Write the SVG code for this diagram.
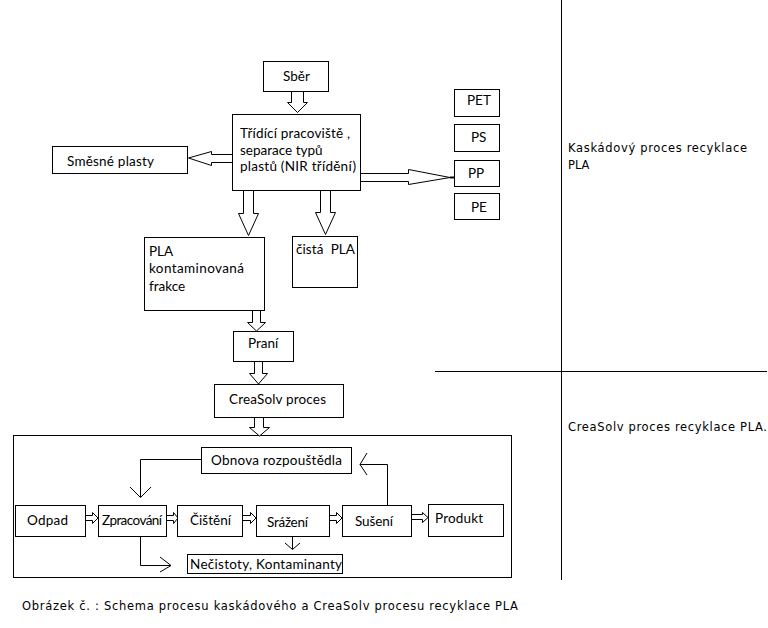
<svg xmlns="http://www.w3.org/2000/svg" width="768" height="628" viewBox="0 0 768 628">
<style>
  .box { fill: #fff; stroke: #000; stroke-width: 1; }
  .t { font-family: Lato, "Liberation Sans", Arial, sans-serif; font-size: 13.5px; fill: #000; }
  .r { font-family: "DejaVu Sans", Verdana, sans-serif; font-size: 11.5px; fill: #000; }
  .ha { fill: #fff; stroke: #000; stroke-width: 1; stroke-linejoin: miter; }
  .ln { fill: none; stroke: #000; stroke-width: 1; }
</style>
<rect x="0" y="0" width="768" height="628" fill="#fff"/>

<g id="dividers">
  <line class="ln" x1="561.5" y1="0" x2="561.5" y2="580"/>
  <line class="ln" x1="435" y1="371.5" x2="767" y2="371.5"/>
</g>

<g id="container">
  <rect class="box" x="13.5" y="435.5" width="498" height="142"/>
</g>

<g id="connectors">
  <path class="ha" d="M291.5,91.5 V102.5 H287.5 L297.5,112.5 L307.5,102.5 H303.5 V91.5"/>
  <path class="ha" d="M232,154.5 H211.5 V151.5 L188.5,158 L211.5,165.5 V162.5 H232"/>
  <path class="ha" d="M361,173.5 H408.5 V169.5 L450,177.5 L408.5,184.5 V181.5 H361"/>
  <line x1="450" y1="177.5" x2="454" y2="177.5" stroke="#000" stroke-width="2"/>
  <path class="ha" d="M243.5,191 V213.5 H238.5 L248.5,235.5 L258.5,213.5 H253.5 V191"/>
  <path class="ha" d="M320.5,191 V212.5 H315.5 L325.5,234.5 L335.5,212.5 H330.5 V191"/>
  <path class="ha" d="M252.5,310 V322.5 H247.5 L256.5,331 L265.5,322.5 H260.5 V310"/>
  <path class="ha" d="M254.5,361 V373.5 H249.5 L258.5,384 L267.5,373.5 H262.5 V361"/>
  <path class="ha" d="M254.5,417 V427.5 H249.5 L259.5,436 L269.5,427.5 H263.5 V417"/>
  <path class="ha" d="M86,515.5 H92.5 V512.5 L98,518 L92.5,523.5 V520.5 H86"/>
  <path class="ha" d="M167,515.5 H173.5 V512.5 L178,518 L173.5,523.5 V520.5 H167"/>
  <path class="ha" d="M243,515.5 H250.5 V512.5 L256,518 L250.5,523.5 V520.5 H243"/>
  <path class="ha" d="M330,515.5 H336.5 V512.5 L342,518 L336.5,523.5 V520.5 H330"/>
  <path class="ha" d="M412,514.5 H422.5 V512.5 L428,517.5 L422.5,522.5 V519.5 H412"/>
  <polyline class="ln" points="201,459.5 140.5,459.5 140.5,497"/>
  <polyline class="ln" points="130,487 140.5,497.5 151,487"/>
  <polyline class="ln" points="387.5,505 387.5,464.5 360,464.5"/>
  <polyline class="ln" points="367,453 360,464.5 367,475"/>
  <polyline class="ln" points="140.5,536 140.5,565.5 171,565.5"/>
  <polyline class="ln" points="160,557 171,565.5 160,572"/>
  <line class="ln" x1="292.5" y1="536" x2="292.5" y2="549"/>
  <polyline class="ln" points="285,543 292.5,549.5 300,543"/>
</g>

<g id="sber">
  <rect class="box" x="263.5" y="61.5" width="65" height="30"/>
  <text class="t" x="283" y="81">Sběr</text>
</g>
<g id="tridici">
  <rect class="box" x="232.5" y="114.5" width="128" height="76"/>
  <text class="t" x="240" y="138" textLength="110">Třídící pracoviště ,</text>
  <text class="t" x="240" y="155">separace typů</text>
  <text class="t" x="240" y="171" textLength="116">plastů (NIR třídění)</text>
</g>
<g id="smesne">
  <rect class="box" x="52.5" y="146.5" width="135" height="27"/>
  <text class="t" x="67" y="166" textLength="87">Směsné plasty</text>
</g>
<g id="pet">
  <rect class="box" x="454.5" y="89.5" width="45" height="27"/>
  <text class="t" x="467" y="105">PET</text>
</g>
<g id="ps">
  <rect class="box" x="454.5" y="124.5" width="45" height="27"/>
  <text class="t" x="471" y="142">PS</text>
</g>
<g id="pp">
  <rect class="box" x="454.5" y="160.5" width="45" height="26"/>
  <text class="t" x="468" y="178">PP</text>
</g>
<g id="pe">
  <rect class="box" x="454.5" y="193.5" width="45" height="26"/>
  <text class="t" x="471" y="212">PE</text>
</g>
<g id="pla-kont">
  <rect class="box" x="144.5" y="237.5" width="120" height="73"/>
  <text class="t" x="149" y="256">PLA</text>
  <text class="t" x="149" y="273" textLength="95">kontaminovaná</text>
  <text class="t" x="149" y="291">frakce</text>
</g>
<g id="cista">
  <rect class="box" x="292.5" y="236.5" width="65" height="51"/>
  <text class="t" x="296" y="254" textLength="59" xml:space="preserve">čistá  PLA</text>
</g>
<g id="prani">
  <rect class="box" x="233.5" y="331.5" width="60" height="30"/>
  <text class="t" x="248" y="348">Praní</text>
</g>
<g id="creasolv">
  <rect class="box" x="214.5" y="384.5" width="129" height="33"/>
  <text class="t" x="229" y="404" textLength="97">CreaSolv proces</text>
</g>
<g id="obnova">
  <rect class="box" x="201.5" y="447.5" width="150" height="26"/>
  <text class="t" x="211" y="465" textLength="131">Obnova rozpouštědla</text>
</g>
<g id="odpad">
  <rect class="box" x="15.5" y="505.5" width="70" height="31"/>
  <text class="t" x="27" y="525" textLength="41">Odpad</text>
</g>
<g id="zpracovani">
  <rect class="box" x="98.5" y="505.5" width="68" height="31"/>
  <text class="t" x="102" y="525" textLength="60">Zpracování</text>
</g>
<g id="cisteni">
  <rect class="box" x="177.5" y="505.5" width="65" height="31"/>
  <text class="t" x="190" y="525" textLength="41">Čištění</text>
</g>
<g id="srazeni">
  <rect class="box" x="256.5" y="505.5" width="73" height="31"/>
  <text class="t" x="267" y="527" textLength="41">Srážení</text>
</g>
<g id="suseni">
  <rect class="box" x="342.5" y="505.5" width="69" height="31"/>
  <text class="t" x="355" y="526" textLength="38">Sušení</text>
</g>
<g id="produkt">
  <rect class="box" x="428.5" y="504.5" width="75" height="32"/>
  <text class="t" x="435" y="523" textLength="48">Produkt</text>
</g>
<g id="necistoty">
  <rect class="box" x="187.5" y="554.5" width="155" height="19"/>
  <text class="t" x="190" y="569" textLength="152">Nečistoty, Kontaminanty</text>
</g>

<g id="labels">
  <text class="r" x="568" y="152" textLength="179">Kaskádový proces recyklace</text>
  <text class="r" x="568" y="169">PLA</text>
  <text class="r" x="568" y="431" textLength="199">CreaSolv proces recyklace PLA.</text>
  <text class="r" x="22" y="610" textLength="496">Obrázek č. : Schema procesu kaskádového a CreaSolv procesu recyklace PLA</text>
</g>
</svg>
